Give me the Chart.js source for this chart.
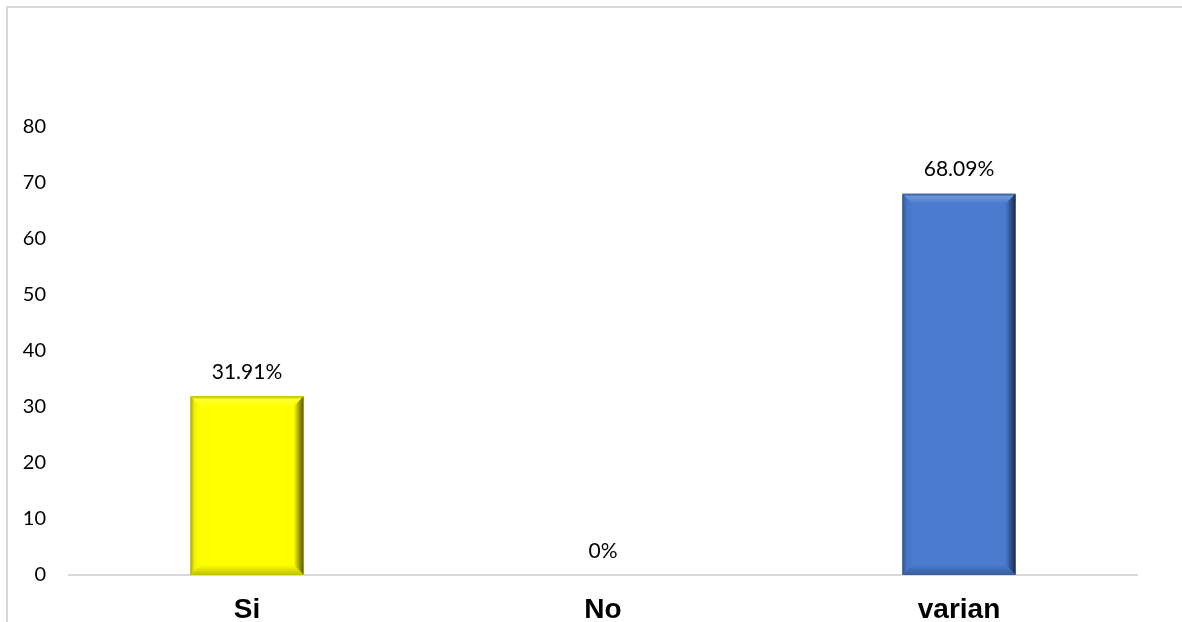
<!DOCTYPE html>
<html>
<head>
<meta charset="utf-8">
<script src="https://cdn.jsdelivr.net/npm/chart.js@4"></script>
<style>
  html, body { margin: 0; padding: 0; background: #fff; overflow: hidden; }
  #wrap { position: relative; width: 1182px; height: 622px; }
  #frame { position: absolute; left: 6px; top: 6px; width: 1200px; height: 700px;
           border-left: 2px solid #d9d9d9; border-top: 2px solid #d9d9d9; pointer-events: none; }
  canvas { position: absolute; left: 0; top: 0; }
</style>
</head>
<body>
<div id="wrap">
  <canvas id="chart" width="1182" height="622"></canvas>
  <div id="frame"></div>
</div>
<script>
// chart data
const categories = ["Si", "No", "varian"];
const values = [31.91, 0, 68.09];
const barColors = ["#FFFF00", "#FFFF00", "#4A7BCF"];
const yTicks = [0, 10, 20, 30, 40, 50, 60, 70, 80];

document.addEventListener("DOMContentLoaded", function() {
    function shade(hex, f) {
        // f < 0 darkens, f > 0 lightens
        const n = parseInt(hex.slice(1), 16);
        let r = (n >> 16) & 255, g = (n >> 8) & 255, b = n & 255;
        const mix = (c) => f < 0 ? Math.round(c * (1 + f)) : Math.round(c + (255 - c) * f);
        return "rgb(" + mix(r) + "," + mix(g) + "," + mix(b) + ")";
    }

    // bevel look on top of each bar, using the bar element geometry
    const bevelPlugin = {
        id: "bevel",
        afterDatasetsDraw(chart) {
            const ctx = chart.ctx;
            const meta = chart.getDatasetMeta(0);
            meta.data.forEach((bar, i) => {
                const p = bar.getProps(["x", "y", "base", "width"], true);
                const L = p.x - p.width / 2, R = p.x + p.width / 2;
                const T = p.y, B = p.base;
                const h = B - T;
                if (h < 1) return;
                const b = Math.min(10, h / 2);
                const c = barColors[i];
                ctx.save();
                // top
                let g = ctx.createLinearGradient(0, T, 0, T + b);
                g.addColorStop(0, shade(c, -0.3));
                g.addColorStop(0.3, shade(c, 0.2));
                g.addColorStop(1, c);
                ctx.fillStyle = g;
                ctx.beginPath();
                ctx.moveTo(L, T); ctx.lineTo(R, T); ctx.lineTo(R - b, T + b); ctx.lineTo(L + b, T + b);
                ctx.closePath(); ctx.fill();
                // left
                g = ctx.createLinearGradient(L, 0, L + b, 0);
                g.addColorStop(0, shade(c, -0.35));
                g.addColorStop(0.4, shade(c, -0.05));
                g.addColorStop(1, c);
                ctx.fillStyle = g;
                ctx.beginPath();
                ctx.moveTo(L, T); ctx.lineTo(L + b, T + b); ctx.lineTo(L + b, B - b); ctx.lineTo(L, B);
                ctx.closePath(); ctx.fill();
                // right
                g = ctx.createLinearGradient(R - b, 0, R, 0);
                g.addColorStop(0, c);
                g.addColorStop(0.5, shade(c, -0.35));
                g.addColorStop(1, shade(c, -0.65));
                ctx.fillStyle = g;
                ctx.beginPath();
                ctx.moveTo(R, T); ctx.lineTo(R, B); ctx.lineTo(R - b, B - b); ctx.lineTo(R - b, T + b);
                ctx.closePath(); ctx.fill();
                // bottom
                g = ctx.createLinearGradient(0, B - b, 0, B);
                g.addColorStop(0, c);
                g.addColorStop(1, shade(c, -0.25));
                ctx.fillStyle = g;
                ctx.beginPath();
                ctx.moveTo(L, B); ctx.lineTo(R, B); ctx.lineTo(R - b, B - b); ctx.lineTo(L + b, B - b);
                ctx.closePath(); ctx.fill();
                ctx.restore();
            });
        }
    };

    // value labels above bars
    const labelPlugin = {
        id: "valueLabels",
        afterDatasetsDraw(chart) {
            const ctx = chart.ctx;
            const meta = chart.getDatasetMeta(0);
            ctx.save();
            ctx.font = "21px Lato";
            ctx.fillStyle = "#000";
            ctx.textAlign = "center";
            ctx.textBaseline = "middle";
            meta.data.forEach((bar, i) => {
                ctx.fillText(values[i] + "%", bar.x, bar.y - 24);
            });
            ctx.restore();
        }
    };

    new Chart(document.getElementById("chart").getContext("2d"), {
        type: "bar",
        data: {
            labels: categories,
            datasets: [{
                data: values,
                backgroundColor: barColors,
                borderWidth: 0,
                barPercentage: 0.318,
                categoryPercentage: 1
            }]
        },
        options: {
            responsive: false,
            animation: false,
            layout: { padding: { left: 0, right: 45, top: 127, bottom: 0 } },
            plugins: { legend: { display: false }, tooltip: { enabled: false } },
            scales: {
                x: {
                    grid: { display: false, drawTicks: false },
                    border: { display: true, color: "#d9d9d9", width: 2 },
                    ticks: { color: "#000", padding: 18, font: { family: "Liberation Sans", size: 28, weight: "bold" } },
                    afterFit(scale) { scale.height = 47; }
                },
                y: {
                    min: 0,
                    max: 80,
                    afterBuildTicks(scale) { scale.ticks = yTicks.map(v => ({ value: v })); },
                    grid: { display: false, drawTicks: false },
                    border: { display: false },
                    ticks: { color: "#000", padding: 23, font: { family: "Lato", size: 20 } },
                    afterFit(scale) { scale.width = 69; }
                }
            }
        },
        plugins: [bevelPlugin, labelPlugin]
    });
});
</script>
</body>
</html>
